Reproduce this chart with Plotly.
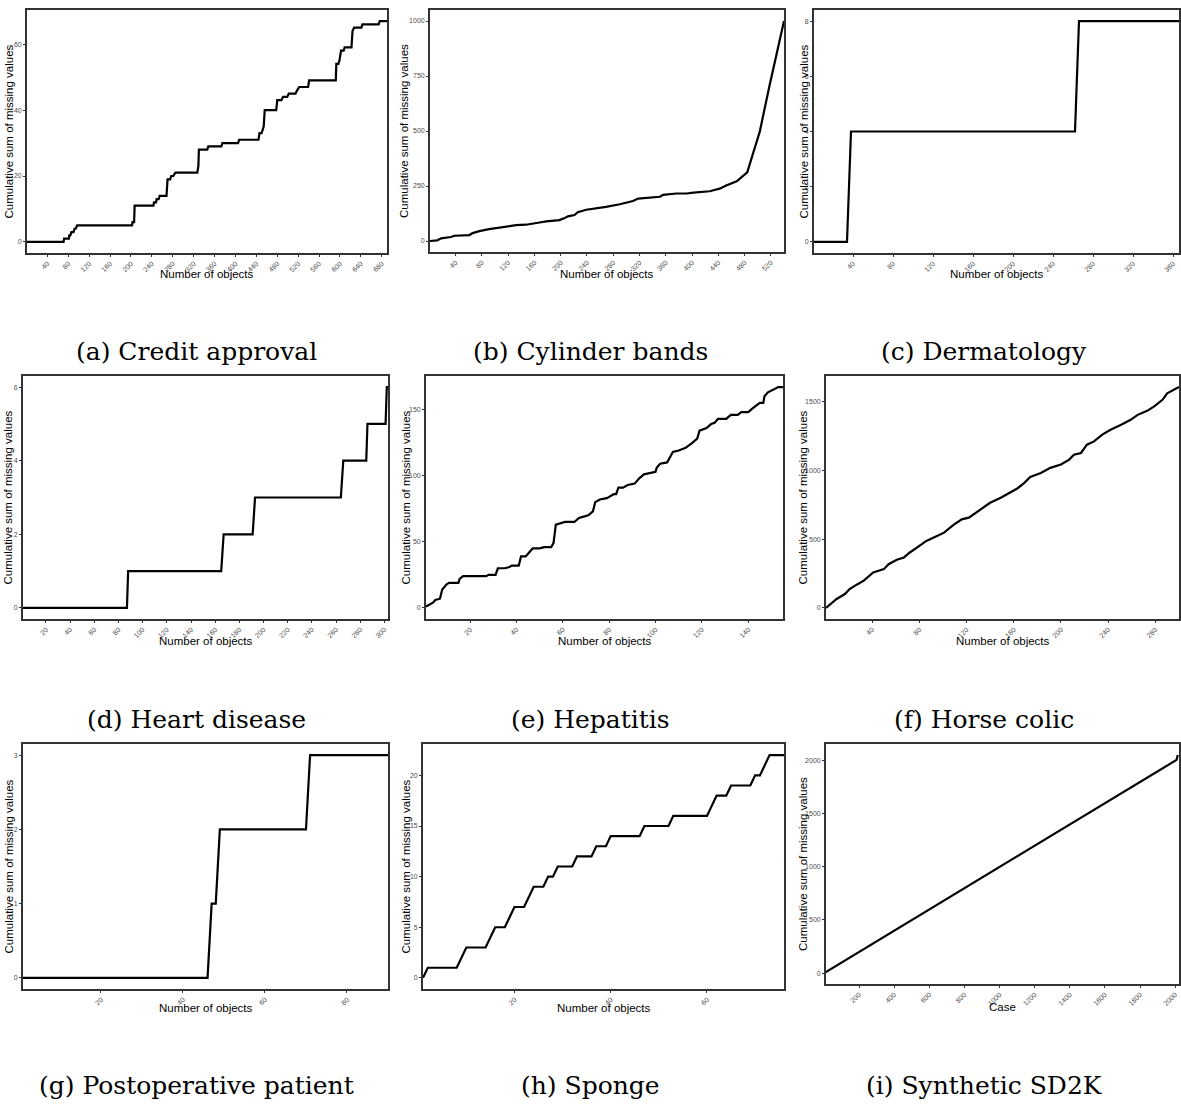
import plotly.graph_objects as go

# ---- series: cumulative number of missing values per object ----
credit_x = [1, 71, 72, 81, 82, 84, 86, 90, 92, 94, 97, 202, 203, 206, 207, 243, 244, 248, 249, 253,
            255, 268, 270, 275, 277, 281, 285, 327, 329, 330, 346, 348, 373, 375, 405, 407, 444, 446,
            450, 452, 454, 456, 478, 480, 488, 491, 499, 502, 515, 518, 522, 539, 541, 592, 593, 597,
            599, 602, 607, 609, 622, 624, 627, 641, 643, 674, 676, 690]
credit_y = [0, 0, 1, 1, 2, 2, 3, 3, 4, 4, 5, 5, 6, 6, 11, 11, 12, 12, 13, 13,
            14, 14, 19, 19, 20, 20, 21, 21, 23, 28, 28, 29, 29, 30, 30, 31, 31, 33,
            33, 34, 35, 40, 40, 43, 43, 44, 44, 45, 45, 46, 47, 47, 49, 49, 54, 54,
            55, 58, 58, 59, 59, 64, 65, 65, 66, 66, 67, 67]

cylinder_x = [1, 12, 18, 33, 38, 61, 66, 76, 91, 107, 117, 127, 132, 147, 158, 168, 178, 188, 198,
              206, 211, 221, 226, 239, 249, 269, 290, 310, 318, 330, 351, 356, 366, 376, 392, 402,
              427, 432, 442, 452, 468, 484, 503, 518, 540]
cylinder_y = [0, 3, 12, 18, 24, 27, 36, 45, 54, 62, 66, 69, 72, 74, 81, 84, 89, 92, 95,
              104, 112, 118, 131, 142, 146, 155, 167, 182, 193, 195, 201, 210, 213, 216, 216, 220,
              226, 229, 238, 252, 271, 312, 496, 707, 1000]

derma_x = [1, 34, 38, 262, 266, 366]
derma_y = [0, 0, 4, 4, 8, 8]

heart_x = [1, 87, 88, 165, 167, 191, 193, 264, 266, 285, 286, 301, 302, 303]
heart_y = [0, 0, 1, 1, 2, 2, 3, 3, 4, 4, 5, 5, 6, 6]

hepatitis_x = [1, 4, 5, 7, 8, 10, 11, 15, 15.5, 17, 18, 27, 28, 31, 32, 35, 37, 38, 41, 42, 44,
               46, 47, 50, 52, 55, 56, 57, 59, 61, 65, 67, 69, 71, 73, 74, 76, 79, 80, 82, 83, 84,
               86, 88, 91, 93, 95, 98, 100, 100.5, 102, 105, 106, 107.5, 110, 113, 116, 118, 119,
               122, 124, 125.5, 127, 130.5, 132.5, 135.5, 137, 140, 142, 145, 146.5, 147, 148.5,
               151.5, 153, 155]
hepatitis_y = [1, 4, 6, 7, 14, 18, 19, 19, 22, 24, 24, 24, 25, 25, 30, 30, 31, 32, 32, 39, 39,
               43, 45, 45, 46, 46, 49, 63, 64, 65, 65, 68, 69, 70, 73, 80, 82, 83, 84, 86, 86, 91,
               91, 93, 94, 98, 101, 102, 103, 106, 109, 110, 113, 118, 119, 121, 125, 128, 134,
               136, 139, 140, 143, 143, 146, 146, 148, 148, 151, 155, 155, 160, 163,
               166, 167, 167]

horse_x = [1, 10, 17, 21, 27, 33, 41, 50, 54, 61, 67, 72, 78, 86, 95, 101, 109, 116, 122, 128,
           132, 140, 149, 157, 163, 169, 174, 183, 191, 200, 207, 211, 217, 222, 228, 235, 242,
           251, 259, 265, 273, 279, 286, 290, 296, 300]
horse_y = [0, 65, 101, 137, 169, 198, 258, 282, 318, 350, 367, 403, 439, 487, 523, 547, 603, 644,
           656, 692, 721, 764, 801, 842, 868, 909, 952, 981, 1018, 1042, 1078, 1114, 1126, 1186,
           1210, 1259, 1295, 1331, 1367, 1403, 1432, 1464, 1512, 1560, 1590, 1605]

postop_x = [1, 46, 47, 48, 49, 70, 71, 90]
postop_y = [0, 0, 1, 1, 2, 2, 3, 3]

sponge_x = [1, 2, 8, 10, 14, 16, 18, 20, 22, 24, 26, 27, 28, 29, 32, 33, 36, 37, 39, 40, 46, 47,
            52, 53, 60, 62, 64, 65, 69, 70, 71, 73, 76]
sponge_y = [0, 1, 1, 3, 3, 5, 5, 7, 7, 9, 9, 10, 10, 11, 11, 12, 12, 13, 13, 14, 14, 15,
            15, 16, 16, 18, 18, 19, 19, 20, 20, 22, 22]

synth_x = [1, 2008, 2015]
synth_y = [0, 2003, 2050]

# ---- axis ticks ----
credit_xticks = [40, 80, 120, 160, 200, 240, 280, 320, 360, 400, 440, 480, 520, 560, 600, 640, 680]
credit_yticks = [0, 20, 40, 60]
cylinder_xticks = [40, 80, 120, 160, 200, 240, 280, 320, 360, 400, 440, 480, 520]
cylinder_yticks = [0, 250, 500, 750, 1000]
derma_xticks = [40, 80, 120, 160, 200, 240, 280, 320, 360]
derma_yticks = [0, 2, 4, 6, 8]
heart_xticks = [20, 40, 60, 80, 100, 120, 140, 160, 180, 200, 220, 240, 260, 280, 300]
heart_yticks = [0, 2, 4, 6]
hepatitis_xticks = [20, 40, 60, 80, 100, 120, 140]
hepatitis_yticks = [0, 50, 100, 150]
horse_xticks = [40, 80, 120, 160, 200, 240, 280]
horse_yticks = [0, 500, 1000, 1500]
postop_xticks = [20, 40, 60, 80]
postop_yticks = [0, 1, 2, 3]
sponge_xticks = [20, 40, 60]
sponge_yticks = [0, 5, 10, 15, 20]
synth_xticks = [200, 400, 600, 800, 1000, 1200, 1400, 1600, 1800, 2000]
synth_yticks = [0, 500, 1000, 1500, 2000]

captions = ["(a) Credit approval", "(b) Cylinder bands", "(c) Dermatology",
            "(d) Heart disease", "(e) Hepatitis", "(f) Horse colic",
            "(g) Postoperative patient", "(h) Sponge", "(i) Synthetic SD2K"]
x_titles = ["Number of objects"] * 8 + ["Case"]
y_title = "Cumulative sum of missing values"

W, H = 1181, 1104

# panel layout in pixels: (left, top, right, bottom), x-range,
# y-title x position, x-title y position, caption centre
panels = [
    dict(x=credit_x, y=credit_y, xt=credit_xticks, yt=credit_yticks,
         box=(27, 10, 387, 253), xr=[1, 690], ytx=8, xty=274, cap=(196.5, 352)),
    dict(x=cylinder_x, y=cylinder_y, xt=cylinder_xticks, yt=cylinder_yticks,
         box=(430, 10, 784, 252), xr=[1, 540], ytx=404, xty=274, cap=(590, 352)),
    dict(x=derma_x, y=derma_y, xt=derma_xticks, yt=derma_yticks,
         box=(814, 10, 1179, 253), xr=[1, 366], ytx=803, xty=274, cap=(984, 352)),
    dict(x=heart_x, y=heart_y, xt=heart_xticks, yt=heart_yticks,
         box=(23, 376, 388, 619), xr=[1, 303], ytx=8, xty=641, cap=(196.5, 719)),
    dict(x=hepatitis_x, y=hepatitis_y, xt=hepatitis_xticks, yt=hepatitis_yticks,
         box=(426, 376, 783, 619), xr=[1, 155], ytx=406, xty=641, cap=(590, 719)),
    dict(x=horse_x, y=horse_y, xt=horse_xticks, yt=horse_yticks,
         box=(826, 376, 1179, 619), xr=[1, 300], ytx=803, xty=641, cap=(984, 719)),
    dict(x=postop_x, y=postop_y, xt=postop_xticks, yt=postop_yticks,
         box=(23, 744, 388, 989), xr=[1, 90], ytx=8, xty=1008, cap=(196.5, 1085)),
    dict(x=sponge_x, y=sponge_y, xt=sponge_xticks, yt=sponge_yticks,
         box=(423, 744, 784, 989), xr=[1, 76], ytx=405, xty=1008, cap=(590, 1085)),
    dict(x=synth_x, y=synth_y, xt=synth_xticks, yt=synth_yticks,
         box=(826, 744, 1179, 984), xr=[12, 2022], ytx=803, xty=1007, cap=(984, 1085)),
]

fig = go.Figure()
annotations = []
xtick_font = dict(family="Liberation Sans, Arial, sans-serif", size=7, color="#4d4d4d")
ytick_font = dict(family="Liberation Sans, Arial, sans-serif", size=7, color="#4d4d4d")
title_font = dict(family="Liberation Sans, Arial, sans-serif", size=11.5, color="#000000")

for i, p in enumerate(panels):
    n = "" if i == 0 else str(i + 1)
    left, top, right, bottom = p["box"]
    ymax = max(p["y"])
    pad = 0.05 * ymax
    fig.add_trace(go.Scatter(
        x=p["x"], y=p["y"], mode="lines",
        line=dict(color="#000000", width=2.2),
        xaxis="x" + n, yaxis="y" + n, showlegend=False, hoverinfo="skip",
    ))
    axis_common = dict(
        showline=True, mirror=True, linecolor="#333333", linewidth=1.8,
        showgrid=False, zeroline=False, ticks="outside", ticklen=2,
        tickcolor="#333333", tickwidth=0.8,
    )
    fig.layout["xaxis" + n] = dict(
        axis_common, domain=[left / W, right / W], anchor="y" + n,
        range=p["xr"], tickvals=p["xt"], tickangle=-45, tickfont=xtick_font,
    )
    fig.layout["yaxis" + n] = dict(
        axis_common, domain=[1 - bottom / H, 1 - top / H], anchor="x" + n,
        range=[-pad, ymax + pad], tickvals=p["yt"], tickfont=ytick_font,
    )
    # axis titles
    annotations.append(dict(
        text=x_titles[i], x=(left + right) / 2 / W, y=1 - p["xty"] / H,
        xref="paper", yref="paper", showarrow=False, font=title_font,
        xanchor="center", yanchor="middle",
    ))
    annotations.append(dict(
        text=y_title, x=p["ytx"] / W, y=1 - (top + bottom) / 2 / H,
        xref="paper", yref="paper", showarrow=False, font=title_font,
        textangle=-90, xanchor="center", yanchor="middle",
    ))
    # sub-figure caption
    annotations.append(dict(
        text=captions[i], x=p["cap"][0] / W, y=1 - p["cap"][1] / H,
        xref="paper", yref="paper", showarrow=False,
        font=dict(family="DejaVu Serif, serif", size=25, color="#000000"),
        xanchor="center", yanchor="middle",
    ))

fig.update_layout(
    width=W, height=H, margin=dict(l=0, r=0, t=0, b=0),
    paper_bgcolor="white", plot_bgcolor="white",
    annotations=annotations,
)

fig.write_html("out.html")
